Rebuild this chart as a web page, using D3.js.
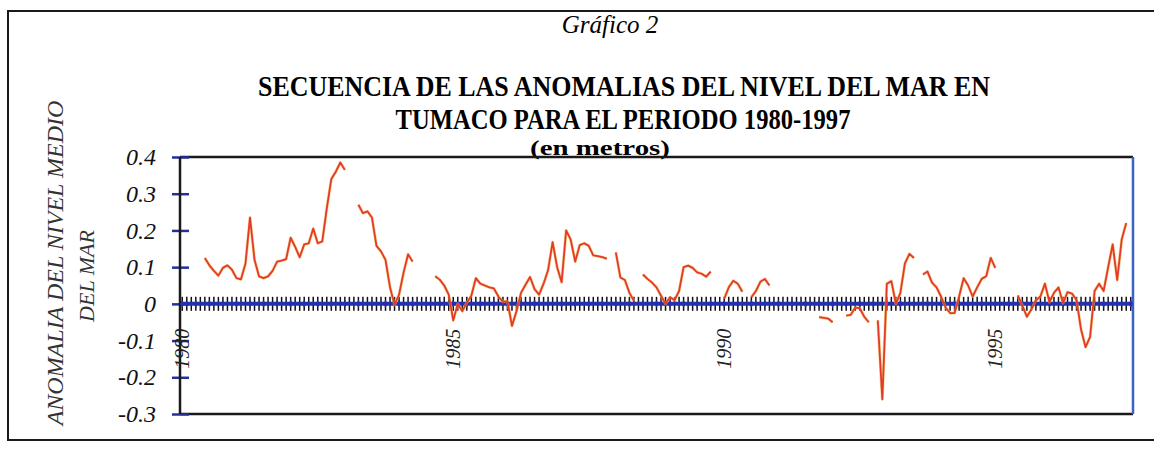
<!DOCTYPE html>
<meta charset="utf-8">
<style>
body { margin: 0; background: #fff; }
svg { font-family: "Liberation Serif", "DejaVu Serif", serif; }
</style>
<body>
<script src="https://cdn.jsdelivr.net/npm/d3@7"></script>
<script>
// categorias: meses desde enero 1980 hasta julio 1997
var anios = [1980,1981,1982,1983,1984,1985,1986,1987,1988,1989,1990,1991,1992,1993,1994,1995,1996,1997];
var nombresMes = ["ene","feb","mar","abr","may","jun","jul","ago","sep","oct","nov","dic"];
var etiquetasAnio = ["1980","1985","1990","1995"];

// anomalia mensual del nivel del mar (m), null = sin dato
var anomalia = [
  null,null,null,null,null,0.125,0.105,0.09,0.077,0.098,
  0.105,0.093,0.07,0.067,0.11,0.235,0.12,0.075,0.07,0.075,
  0.09,0.115,0.118,0.122,0.18,0.155,0.127,0.162,0.165,0.205,
  0.165,0.17,0.26,0.34,0.36,0.385,0.365,null,null,0.27,
  0.247,0.252,0.235,0.158,0.143,0.12,0.045,-0.003,0.025,0.085,
  0.135,0.115,null,null,null,null,0.075,0.066,0.05,0.025,
  -0.045,0.0,-0.02,0.003,0.022,0.07,0.055,0.05,0.045,0.042,
  0.02,0.006,0.007,-0.06,-0.02,0.03,0.052,0.073,0.04,0.025,
  0.055,0.092,0.168,0.1,0.059,0.2,0.175,0.115,0.16,0.165,
  0.158,0.132,0.13,0.127,0.123,null,0.14,0.072,0.065,0.03,
  0.008,null,0.08,0.068,0.058,0.045,0.022,0.0,0.018,0.01,
  0.035,0.1,0.104,0.098,0.086,0.082,0.074,0.088,null,null,
  0.014,0.045,0.063,0.055,0.033,null,0.018,0.035,0.06,0.068,
  0.05,null,null,null,null,null,null,null,null,null,
  null,-0.036,-0.038,-0.04,-0.05,null,null,-0.032,-0.03,-0.01,
  -0.012,-0.035,-0.05,null,-0.045,-0.26,0.055,0.062,0.0,0.03,
  0.11,0.136,0.125,null,0.08,0.088,0.058,0.045,0.02,-0.01,
  -0.025,-0.025,0.02,0.07,0.05,0.02,0.045,0.068,0.075,0.125,
  0.098,null,null,null,null,0.023,-0.005,-0.035,-0.015,0.01,
  0.02,0.055,0.005,0.03,0.045,0.002,0.032,0.028,0.01,-0.07,
  -0.118,-0.09,0.035,0.055,0.035,0.1,0.162,0.065,0.175,0.22,
  null
];
var yTicks = [-0.3,-0.2,-0.1,0,0.1,0.2,0.3,0.4];

var meses = [];
anios.forEach(function(a) {
  nombresMes.forEach(function(m) { meses.push(a + "-" + m); });
});
meses = meses.slice(0, anomalia.length);

var W = 1154, H = 449;
var plot = {left: 180, right: 1133, top: 157, bottom: 414};

var svg = d3.select("body").append("svg")
    .attr("width", W)
    .attr("height", H);

svg.append("rect").attr("width", W).attr("height", H).attr("fill", "#fff");

// marco exterior
svg.append("rect")
    .attr("x", 8).attr("y", 11)
    .attr("width", 1160).attr("height", 429)
    .attr("fill", "none")
    .attr("stroke", "#1a1a1a")
    .attr("stroke-width", 2);

var x = d3.scaleBand().domain(meses).range([plot.left, plot.right]).padding(0);
var y = d3.scaleLinear().domain([-0.3, 0.4]).range([plot.bottom, plot.top]);
var cx = function(m) { return x(m) + x.bandwidth() / 2; };

// titulos
svg.append("text")
    .attr("x", 610).attr("y", 33)
    .attr("text-anchor", "middle")
    .style("font-style", "italic")
    .style("font-size", "25px")
    .text("Gráfico 2");

svg.append("text")
    .attr("x", 624).attr("y", 96)
    .attr("text-anchor", "middle")
    .attr("textLength", 732).attr("lengthAdjust", "spacingAndGlyphs")
    .style("font-weight", "bold")
    .style("font-size", "29px")
    .text("SECUENCIA DE LAS ANOMALIAS DEL NIVEL DEL MAR EN");

svg.append("text")
    .attr("x", 623).attr("y", 129)
    .attr("text-anchor", "middle")
    .attr("textLength", 455).attr("lengthAdjust", "spacingAndGlyphs")
    .style("font-weight", "bold")
    .style("font-size", "29px")
    .text("TUMACO PARA EL PERIODO 1980-1997");

svg.append("text")
    .attr("x", 600).attr("y", 155)
    .attr("text-anchor", "middle")
    .attr("textLength", 140).attr("lengthAdjust", "spacingAndGlyphs")
    .style("font-weight", "bold")
    .style("font-size", "21px")
    .text("(en metros)");

// titulo eje y
svg.append("text")
    .attr("transform", "translate(63,263) rotate(-90)")
    .attr("text-anchor", "middle")
    .style("font-style", "italic")
    .style("font-size", "24px")
    .style("fill", "#333")
    .text("ANOMALIA DEL NIVEL MEDIO");

svg.append("text")
    .attr("transform", "translate(94,276) rotate(-90)")
    .attr("text-anchor", "middle")
    .style("font-style", "italic")
    .style("font-size", "22px")
    .style("fill", "#333")
    .text("DEL MAR");

// borde del area de trazado
svg.append("line")
    .attr("x1", plot.left).attr("x2", plot.right)
    .attr("y1", plot.top).attr("y2", plot.top)
    .attr("stroke", "#1a1a1a").attr("stroke-width", 2.5);
svg.append("line")
    .attr("x1", plot.left).attr("x2", plot.right)
    .attr("y1", plot.bottom).attr("y2", plot.bottom)
    .attr("stroke", "#1a1a1a").attr("stroke-width", 2.5);
svg.append("line")
    .attr("x1", plot.right).attr("x2", plot.right)
    .attr("y1", plot.top).attr("y2", plot.bottom)
    .attr("stroke", "#3b62c4").attr("stroke-width", 2.5);

// eje y
var yAxis = svg.append("g")
    .attr("transform", "translate(" + (plot.left + 9) + ",0)")
    .call(d3.axisLeft(y).tickValues(yTicks).tickSize(17).tickPadding(16)
      .tickFormat(function(d) { return String(d); }));
yAxis.select(".domain").remove();
yAxis.selectAll(".tick line").attr("stroke", "#23309a").attr("stroke-width", 2.5);
yAxis.selectAll(".tick text")
    .style("font-family", "Liberation Serif")
    .style("font-style", "italic")
    .style("font-size", "24px")
    .attr("fill", "#111");

svg.append("line")
    .attr("x1", plot.left).attr("x2", plot.left)
    .attr("y1", plot.top).attr("y2", plot.bottom)
    .attr("stroke", "#1a1a1a").attr("stroke-width", 2.5);

// eje x sobre el cero, con marcas en cada mes
var xAxis = svg.append("g")
    .attr("transform", "translate(0," + (y(0) - 7) + ")")
    .call(d3.axisBottom(x).tickSize(14).tickPadding(0)
      .tickFormat(function(m, i) {
        var a = m.slice(0, 4);
        return (m.slice(5) === "ene" && etiquetasAnio.indexOf(a) >= 0) ? a : "";
      }));
xAxis.select(".domain").remove();
xAxis.selectAll(".tick line").attr("stroke", "#111").attr("stroke-width", 1.5);
xAxis.selectAll(".tick text")
    .attr("transform", "rotate(-90)")
    .attr("text-anchor", "end")
    .attr("x", -32).attr("y", 0).attr("dy", "0.35em")
    .style("font-family", "Liberation Serif")
    .style("font-style", "italic")
    .style("font-size", "20px")
    .attr("fill", "#222");

// serie cero (linea azul)
svg.append("path")
    .datum(meses)
    .attr("fill", "none")
    .attr("stroke", "#2430b0")
    .attr("stroke-width", 4)
    .attr("d", d3.line().x(cx).y(function() { return y(0); }));

svg.append("g").selectAll("path")
    .data(meses.filter(function(m, i) { return i % 3 === 0; }))
  .enter().append("path")
    .attr("transform", function(m) { return "translate(" + cx(m) + "," + y(0) + ")"; })
    .attr("d", d3.symbol(d3.symbolDiamond, 18))
    .attr("fill", "#2430b0");

// serie de anomalias
var puntos = meses.map(function(m, i) { return {m: m, v: anomalia[i]}; });
var linea = d3.line()
    .defined(function(d) { return d.v !== null; })
    .x(function(d) { return cx(d.m); })
    .y(function(d) { return y(d.v); });

svg.append("path")
    .datum(puntos)
    .attr("fill", "none")
    .attr("stroke", "#f2b03a")
    .attr("stroke-width", 3)
    .attr("stroke-opacity", 0.6)
    .attr("stroke-linejoin", "round")
    .attr("d", linea);

svg.append("path")
    .datum(puntos)
    .attr("fill", "none")
    .attr("stroke", "#e23a2c")
    .attr("stroke-width", 1.8)
    .attr("stroke-linejoin", "round")
    .attr("d", linea);
</script>
</body>
